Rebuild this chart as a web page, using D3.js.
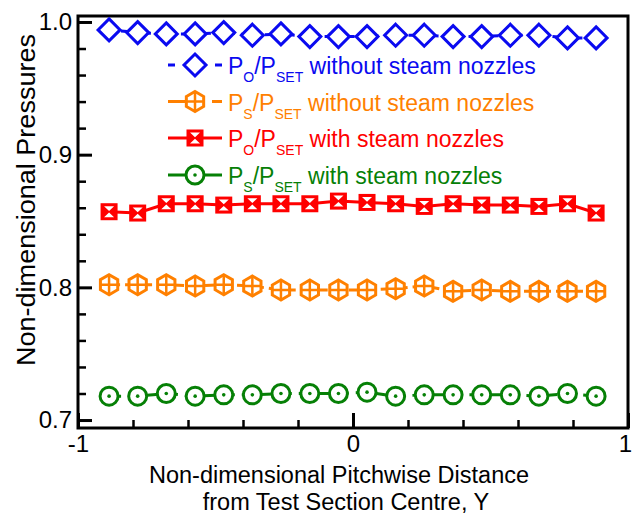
<!DOCTYPE html>
<html>
<head>
<meta charset="utf-8">
<script src="https://cdn.jsdelivr.net/npm/d3@7"></script>
<style>
  html, body { margin: 0; padding: 0; background: #fff; }
  svg { display: block; font-family: Arial, "Liberation Sans", sans-serif; }
</style>
</head>
<body>
<svg id="chart" width="633" height="516"></svg>
<script>
// ---- data ----
const pitchwiseY = [-0.887, -0.783, -0.679, -0.574, -0.470, -0.366, -0.262, -0.157, -0.053,
                    0.051, 0.155, 0.259, 0.364, 0.468, 0.572, 0.676, 0.780, 0.884];
const poWithout = [0.994, 0.992, 0.991, 0.991, 0.992, 0.990, 0.991, 0.989, 0.989,
                   0.989, 0.990, 0.990, 0.989, 0.989, 0.990, 0.990, 0.988, 0.988];
const psWithout = [0.802, 0.802, 0.802, 0.801, 0.802, 0.801, 0.798, 0.798, 0.798,
                   0.798, 0.799, 0.801, 0.797, 0.798, 0.797, 0.797, 0.797, 0.797];
const poWith    = [0.857, 0.856, 0.863, 0.863, 0.862, 0.863, 0.863, 0.863, 0.865,
                   0.864, 0.863, 0.861, 0.863, 0.862, 0.862, 0.861, 0.863, 0.856];
const psWith    = [0.718, 0.718, 0.720, 0.718, 0.719, 0.719, 0.720, 0.720, 0.720,
                   0.721, 0.718, 0.719, 0.719, 0.719, 0.719, 0.718, 0.720, 0.718];

const xMajorTicks = [-1, 0, 1];
const xTickLabels = ["-1", "0", "1"];
const xMinorTicks = [-0.8, -0.6, -0.4, -0.2, 0.2, 0.4, 0.6, 0.8];
const yMajorTicks = [0.7, 0.8, 0.9, 1.0];
const yTickLabels = ["0.7", "0.8", "0.9", "1.0"];
const yMinorTicks = [0.72, 0.74, 0.76, 0.78, 0.82, 0.84, 0.86, 0.88, 0.92, 0.94, 0.96, 0.98];

const seriesNames = ["without steam nozzles", "without steam nozzles", "with steam nozzles", "with steam nozzles"];
const seriesMain = ["O", "S", "O", "S"];

// ---- layout ----
const svg = d3.select("#chart");
const L = 78, R = 628, T = 16, B = 428;
const x = d3.scaleLinear().domain([-1, 1]).range([L, R]);
const y = d3.scaleLinear().domain([0.694, 1.0045]).range([B, T]);

const series = [
  { vals: poWithout, color: "#0a0af0", dash: "6,6", marker: "diamond", legDash: "7,40,7" },
  { vals: psWithout, color: "#ff8000", dash: "11,5", marker: "hex", legDash: "19,25,10" },
  { vals: poWith,    color: "#ff0000", dash: null, marker: "square", legDash: null },
  { vals: psWith,    color: "#068006", dash: "12,7", marker: "circle", legDash: null }
];

function drawMarker(g, type, color, cx, cy) {
  const m = g.append("g").attr("transform", `translate(${cx},${cy})`);
  if (type === "diamond") {
    m.append("path").attr("d", "M0,-11 L11,0 L0,11 L-11,0 Z")
      .attr("fill", "#fff").attr("stroke", color).attr("stroke-width", 3);
  } else if (type === "hex") {
    const r = 10;
    const pts = d3.range(6).map(i => {
      const a = Math.PI / 2 + i * Math.PI / 3;
      return [r * Math.cos(a), r * Math.sin(a)];
    });
    m.append("path").attr("d", "M" + pts.map(p => p.join(",")).join("L") + "Z")
      .attr("fill", "#fff").attr("stroke", color).attr("stroke-width", 3);
    m.append("path").attr("d", "M0,-10 L0,10 M-8.7,0 L8.7,0")
      .attr("stroke", color).attr("stroke-width", 2.5);
  } else if (type === "square") {
    m.append("rect").attr("x", -8.5).attr("y", -8.5).attr("width", 17).attr("height", 17)
      .attr("fill", color);
    m.append("path").attr("d", "M-5,-5.5 L5,-5.5 L0,-0.8 Z M-5,5.5 L5,5.5 L0,0.8 Z")
      .attr("fill", "#fff");
  } else if (type === "circle") {
    m.append("circle").attr("r", 9).attr("fill", "#fff")
      .attr("stroke", color).attr("stroke-width", 3);
    m.append("circle").attr("r", 1.8).attr("fill", color);
  }
}

// ---- axes (ticks inward) ----
const axG = svg.append("g");
axG.append("g").attr("transform", `translate(${L},0)`)
  .call(d3.axisLeft(y).tickValues(yMajorTicks).tickSize(-14).tickPadding(6)
    .tickFormat((d, i) => yTickLabels[i]))
  .call(g => g.select(".domain").remove())
  .call(g => g.selectAll("line").attr("stroke", "#000").attr("stroke-width", 3))
  .call(g => g.selectAll("text").attr("font-size", 24).attr("fill", "#000")
    .attr("font-family", 'Arial, "Liberation Sans", sans-serif'));
axG.append("g").attr("transform", `translate(${L},0)`)
  .call(d3.axisLeft(y).tickValues(yMinorTicks).tickSize(-8).tickFormat(""))
  .call(g => g.select(".domain").remove())
  .call(g => g.selectAll("line").attr("stroke", "#000").attr("stroke-width", 2.5));
axG.append("g").attr("transform", `translate(0,${B})`)
  .call(d3.axisBottom(x).tickValues(xMajorTicks).tickSize(-15).tickPadding(7)
    .tickFormat((d, i) => xTickLabels[i]))
  .call(g => g.select(".domain").remove())
  .call(g => g.selectAll("line").attr("stroke", "#000").attr("stroke-width", 3))
  .call(g => g.selectAll("text").attr("font-size", 24).attr("fill", "#000")
    .attr("font-family", 'Arial, "Liberation Sans", sans-serif')
    .attr("dx", (d, i) => i === xMajorTicks.length - 1 ? -3 : 0));
axG.append("g").attr("transform", `translate(0,${B})`)
  .call(d3.axisBottom(x).tickValues(xMinorTicks).tickSize(-8).tickFormat(""))
  .call(g => g.select(".domain").remove())
  .call(g => g.selectAll("line").attr("stroke", "#000").attr("stroke-width", 2.5));

svg.append("rect").attr("x", L).attr("y", T).attr("width", R - L).attr("height", B - T)
  .attr("fill", "none").attr("stroke", "#000").attr("stroke-width", 3);

// ---- series ----
const line = d3.line().x(d => x(d[0])).y(d => y(d[1]));
series.forEach(s => {
  const pts = pitchwiseY.map((xv, i) => [xv, s.vals[i]]);
  const p = svg.append("path").attr("d", line(pts)).attr("fill", "none")
    .attr("stroke", s.color).attr("stroke-width", 3);
  if (s.dash) p.attr("stroke-dasharray", s.dash);
  const mg = svg.append("g");
  pts.forEach(d => drawMarker(mg, s.marker, s.color, x(d[0]), y(d[1])));
});

// ---- legend ----
const legRows = [65, 101.5, 138, 175];
series.forEach((s, i) => {
  const cy = legRows[i];
  const ln = svg.append("line").attr("x1", 168).attr("x2", 222).attr("y1", cy).attr("y2", cy)
    .attr("stroke", s.color).attr("stroke-width", 3);
  if (s.legDash) ln.attr("stroke-dasharray", s.legDash);
  drawMarker(svg, s.marker, s.color, 195, cy);
  const t = svg.append("text").attr("x", 228).attr("y", cy + 9)
    .attr("fill", s.color).attr("font-size", 23);
  t.append("tspan").text("P");
  t.append("tspan").attr("font-size", 14).attr("dy", 8).text(seriesMain[i]);
  t.append("tspan").attr("dy", -8).text("/P");
  t.append("tspan").attr("font-size", 14).attr("dy", 8).text("SET");
  t.append("tspan").attr("dy", -8).text(" " + seriesNames[i]);
});

// ---- titles ----
svg.append("text").attr("transform", "translate(35,200) rotate(-90)")
  .attr("text-anchor", "middle").attr("font-size", 25).attr("fill", "#000")
  .attr("textLength", 332).attr("lengthAdjust", "spacingAndGlyphs")
  .text("Non-dimensional Pressures");
svg.append("text").attr("x", 339).attr("y", 483).attr("text-anchor", "middle")
  .attr("font-size", 23.5).attr("fill", "#000")
  .text("Non-dimensional Pitchwise Distance");
svg.append("text").attr("x", 346).attr("y", 510).attr("text-anchor", "middle")
  .attr("font-size", 23.5).attr("fill", "#000")
  .text("from Test Section Centre, Y");
</script>
</body>
</html>
